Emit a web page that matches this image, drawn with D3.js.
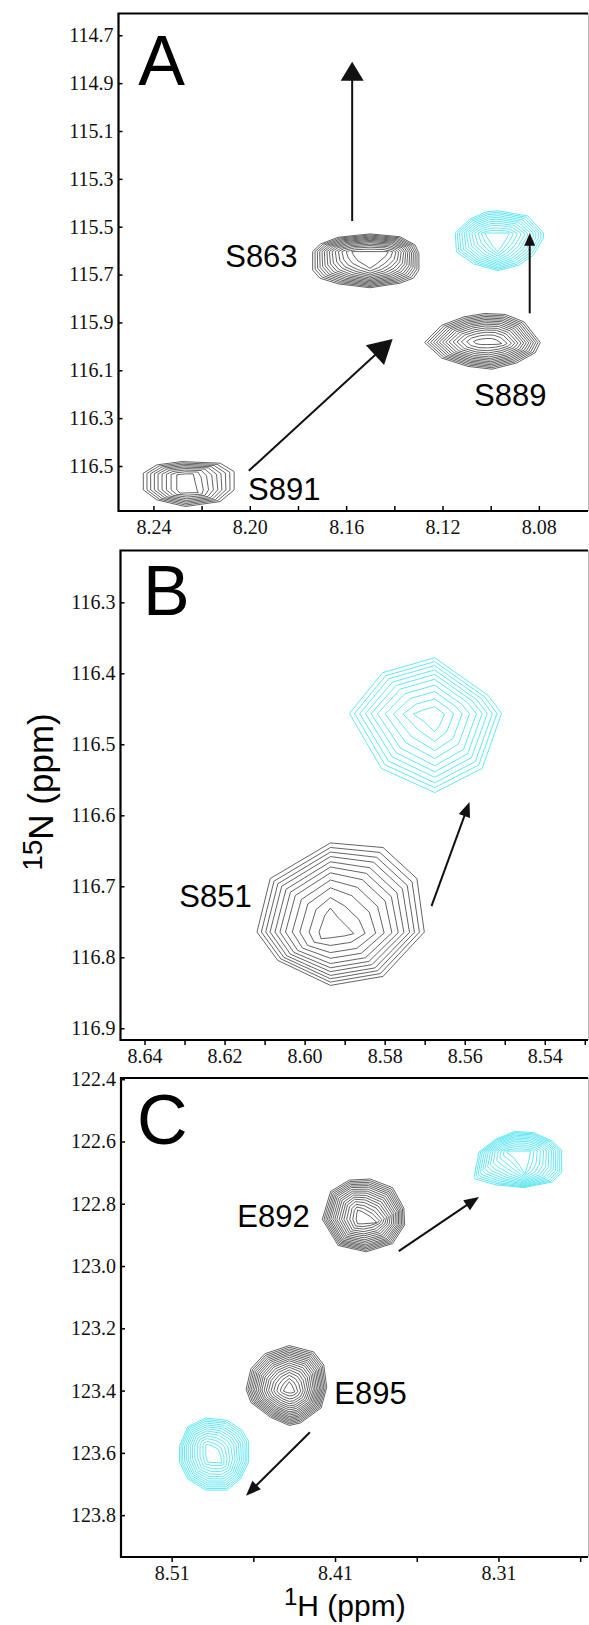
<!DOCTYPE html>
<html>
<head>
<meta charset="utf-8">
<script src="https://cdn.jsdelivr.net/npm/d3@7"></script>
<style>
  body { margin: 0; background: #fff; }
  svg { display: block; }
</style>
</head>
<body>
<svg id="chart" width="589" height="1625"></svg>
<script>
// ---- axes (ppm) ----
var panelNames = ["A", "B", "C"];
var xDomains = [[8.2545, 8.0596], [8.646, 8.5292], [8.541, 8.2552]];
var yDomains = [[114.609, 116.688], [116.227, 116.9165], [122.3961, 123.9344]];

var xTicksA = [8.24, 8.22, 8.20, 8.18, 8.16, 8.14, 8.12, 8.10, 8.08];
var xLabelsA = ["8.24", "8.20", "8.16", "8.12", "8.08"];
var yTicksA = [114.7, 114.9, 115.1, 115.3, 115.5, 115.7, 115.9, 116.1, 116.3, 116.5];

var xTicksB = [8.64, 8.63, 8.62, 8.61, 8.60, 8.59, 8.58, 8.57, 8.56, 8.55, 8.54, 8.53];
var xLabelsB = ["8.64", "8.62", "8.60", "8.58", "8.56", "8.54"];
var yTicksB = [116.3, 116.4, 116.5, 116.6, 116.7, 116.8, 116.9];

var xTicksC = [8.51, 8.46, 8.41, 8.36, 8.31, 8.26];
var xLabelsC = ["8.51", "8.41", "8.31"];
var yTicksC = [122.4, 122.6, 122.8, 123.0, 123.2, 123.4, 123.6, 123.8];

// ---- contour levels: fraction of the way from innermost (0) to outermost (1) ring ----
var levels9  = [1, .89, .78, .67, .56, .44, .31, .17, 0];
var levels10 = [1, .92, .84, .75, .66, .56, .44, .31, .16, 0];
var levels11 = [1, .93, .86, .79, .71, .63, .54, .43, .31, .16, 0];
var levels12 = [1, .93, .86, .78, .70, .62, .53, .44, .34, .23, .12, 0];
var levels13 = [1, .94, .88, .81, .74, .67, .59, .51, .42, .32, .22, .11, 0];
var levels14 = [1, .94, .88, .82, .76, .70, .635, .57, .50, .42, .34, .25, .14, 0];
var levels16 = [1, .95, .9, .85, .8, .75, .69, .63, .57, .5, .43, .36, .28, .19, .1, 0];
var levels18 = [1, .955, .91, .865, .82, .775, .73, .68, .63, .58, .52, .46, .4, .33, .26, .18, .09, 0];

// ---- peaks: centre (1H, 15N ppm), outer and inner contour as offsets (ppm) ----
var peaksA = [
  { name: "S863", state: "free", h: 8.1501, n: 115.639, levels: levels14,
    outer: [[0.0238,-0.035],[0.0205,-0.067],[0.0132,-0.095],[0,-0.109],[-0.0125,-0.097],[-0.0187,-0.063],[-0.0203,-0.028],
            [-0.0203,0.042],[-0.018,0.076],[-0.0125,0.097],[0,0.116],[0.0132,0.100],[0.0208,0.076],[0.0238,0.042]],
    inner: [[0.0076,-0.035],[0.0062,-0.035],[0.0042,-0.035],[0,-0.035],[-0.0042,-0.035],[-0.0062,-0.035],[-0.0076,-0.035],
            [-0.0066,-0.017],[-0.0042,0.004],[-0.0021,0.021],[0,0.035],[0.0021,0.021],[0.005,0.004],[0.0066,-0.017]] },
  { name: "S889 shifted", state: "bound", h: 8.0971, n: 115.556, levels: levels12,
    outer: [[0.0176,-0.0296],[0.0117,-0.0868],[0.0046,-0.1186],[0,-0.1227],[-0.0125,-0.101],[-0.019,-0.0296],
            [-0.019,-0.0084],[-0.0148,0.063],[-0.0086,0.106],[0,0.1273],[0.0101,0.0989],[0.0171,0.0488]],
    inner: [[0.0054,-0.0296],[0.0037,-0.0296],[0.0017,-0.0296],[0,-0.0296],[-0.0025,-0.0296],[-0.0047,-0.0296],
            [-0.0047,-0.025],[-0.0033,0],[-0.0017,0.025],[0,0.0488],[0.0021,0.025],[0.0037,0]] },
  { name: "S889", state: "free", h: 8.1025, n: 115.986, levels: levels14,
    outer: [[0.0249,-0.0021],[0.0179,-0.0739],[0.0086,-0.1094],[0,-0.1236],[-0.0086,-0.1194],[-0.0164,-0.0881],
            [-0.0231,-0.0021],[-0.021,0.0405],[-0.0132,0.0835],[-0.0031,0.1094],[0.007,0.0977],[0.0179,0.0626]],
    inner: [[0.0046,-0.0063],[0.0033,-0.0125],[0.0012,-0.0167],[-0.0008,-0.0188],[-0.0029,-0.0188],[-0.005,-0.0125],
            [-0.0071,0.0021],[-0.0058,0.005],[-0.0033,0.0063],[-0.0008,0.0063],[0.0017,0.0063],[0.0037,0.0021]] },
  { name: "S891", state: "free", h: 8.2256, n: 116.5746, levels: levels9,
    outer: [[0.0186,-0.0447],[0.013,-0.0793],[0.0026,-0.0931],[-0.0133,-0.0864],[-0.0191,-0.0514],
            [-0.0191,0.0251],[-0.0133,0.0739],[0.0012,0.0948],[0.013,0.0668],[0.0186,0.0251]],
    inner: [[0.0047,-0.0376],[0.0033,-0.0397],[0.0008,-0.0418],[-0.0021,-0.0418],[-0.0025,-0.0251],
            [-0.0037,0.0251],[-0.0042,0.0363],[0,0.0376],[0.0033,0.0388],[0.0047,0.0251]] }
];

var peaksB = [
  { name: "S851 shifted", state: "bound", h: 8.5675, n: 116.4659, levels: levels10,
    outer: [[0.0213,-0.0094],[0.01305,-0.0667],[0,-0.0879],[-0.01345,-0.0343],[-0.0167,-0.0094],[-0.01185,0.0681],[0,0.102],[0.0133,0.0681]],
    inner: [[0.00535,-0.0085],[0.003,-0.0141],[0,-0.0188],[-0.0015,-0.0127],[-0.00245,-0.0085],[-0.00125,0.0071],[0,0.0165],[0.0025,0.0028]] },
  { name: "S851", state: "free", h: 8.5912, n: 116.7409, levels: levels11,
    outer: [[0.0207,0.0236],[0.0174,-0.0518],[0.00235,-0.102],[-0.0108,-0.0955],[-0.01925,-0.0518],[-0.0211,0.0236],[-0.0108,0.086],[0.00235,0.0987],[0.0155,0.0635]],
    inner: [[0.0052,0.0236],[0.00375,0],[0.00235,-0.0103],[0.0005,0.0028],[-0.002,0.0169],[-0.0035,0.0258],[-0.00125,0.0289],[0.00235,0.0317],[0.0047,0.0329]] }
];

var peaksC = [
  { name: "E892", state: "free", h: 8.3929, n: 122.8361, levels: levels16,
    outer: [[0.0249,0.0138],[0.0198,-0.0761],[0.0083,-0.1121],[-0.0043,-0.1156],[-0.0181,-0.088],[-0.025,-0.0222],[-0.0255,0.0318],[-0.0181,0.0918],[-0.002,0.1182],[0.0152,0.0979]],
    inner: [[0.0042,0.0138],[0.0037,-0.0077],[0.0033,-0.0161],[0.0003,-0.0103],[-0.0043,0.0042],[-0.0084,0.0234],[-0.0066,0.0257],[-0.0031,0.027],[0.0003,0.0283],[0.0033,0.0283]] },
  { name: "E892 shifted", state: "bound", h: 8.2968, n: 122.6595, levels: levels13,
    outer: [[0.0281,0.0523],[0.0251,-0.0254],[0.0147,-0.0674],[0.0032,-0.0915],[-0.0082,-0.088],[-0.0197,-0.0613],
            [-0.0255,-0.0315],[-0.0255,0.0405],[-0.0197,0.0706],[-0.0024,0.0886],[0.0147,0.08],[0.0274,0.061]],
    inner: [[0.0079,-0.0225],[0.0079,-0.0289],[0.0061,-0.0289],[0.0031,-0.0289],[-0.0012,-0.0289],[-0.0049,-0.0289],
            [-0.0064,-0.0289],[-0.0055,0],[-0.0043,0.0225],[-0.0029,0.044],[0,0.0193],[0.0037,-0.0064]] },
  { name: "E895", state: "free", h: 8.438, n: 123.382, levels: levels18,
    outer: [[0.0264,0.0138],[0.0235,-0.0523],[0.015,-0.1002],[0,-0.1265],[-0.0149,-0.1063],[-0.0211,-0.0642],
            [-0.0229,0.0077],[-0.0195,0.0735],[-0.0069,0.1217],[0,0.1301],[0.0115,0.1037],[0.0235,0.0559]],
    inner: [[0.0035,0.0196],[0.0028,0.0112],[0.0015,0],[0,-0.0103],[-0.0015,0],[-0.0024,0.0096],
            [-0.0034,0.0222],[-0.0024,0.0241],[-0.0012,0.0257],[0,0.0257],[0.0012,0.0241],[0.0024,0.0225]] },
  { name: "E895 shifted", state: "bound", h: 8.4841, n: 123.6068, levels: levels13,
    outer: [[0.0211,-0.0283],[0.016,-0.0912],[0.005,-0.1188],[-0.0081,-0.1114],[-0.0173,-0.079],[-0.0212,-0.043],
            [-0.0212,0.0231],[-0.0162,0.0767],[-0.0081,0.1127],[0.005,0.1127],[0.016,0.0767],[0.0211,0.0231]],
    inner: [[0.005,-0.0311],[0.005,-0.0321],[0.0037,-0.0337],[0.0012,-0.0289],[-0.0012,-0.0225],[-0.0024,-0.0193],
            [-0.0043,0.0064],[-0.0047,0.0263],[-0.0024,0.0247],[0.0006,0.0241],[0.004,0.0228],[0.005,0]] }
];

// ---- shift arrows (from, to in ppm) ----
var arrowsA = [
  { from: [8.1575, 115.476], to: [8.1575, 114.811], head: "large" },
  { from: [8.0838, 115.862], to: [8.0838, 115.527], head: "small" },
  { from: [8.2004, 116.52], to: [8.1407, 115.969], head: "wide" }
];
var arrowsB = [
  { from: [8.5683, 116.7278], to: [8.5588, 116.5811], head: "medium" }
];
var arrowsC = [
  { from: [8.371, 122.952], to: [8.3219, 122.778], head: "medium" },
  { from: [8.4254, 123.5336], to: [8.4645, 123.7375], head: "medium" }
];

// ---- residue labels (anchor at left baseline, ppm) ----
var labelsA = [{ text: "S863", h: 8.2102, n: 115.6686 }, { text: "S889", h: 8.1069, n: 116.2489 }, { text: "S891", h: 8.2007, n: 116.6414 }];
var labelsB = [{ text: "S851", h: 8.6313, n: 116.7292 }];
var labelsC = [{ text: "E892", h: 8.4698, n: 122.8746 }, { text: "E895", h: 8.4105, n: 123.443 }];
var letterPos = [[8.2463, 114.9088], [8.6404, 116.3178], [8.5312, 122.6081]];

// ---------------------------------------------------------------
var svg = d3.select("#chart");
var sans = "'Liberation Sans', Arial, Helvetica, sans-serif",
    serif = "'Liberation Serif', 'Times New Roman', Times, serif";
var frames = [
  { left: 118.5, top: 13.5, right: 588, bottom: 511, tickX: -5, padX: 9 },
  { left: 120.5, top: 550.5, right: 588, bottom: 1040, tickX: 5, padX: 4 },
  { left: 121, top: 1078, right: 588, bottom: 1557, tickX: 5, padX: 4 }
];
var stateColor = { free: "#3c3c3c", bound: "#3fe0ef" };
var heads = { large: [19, 11.5], small: [12.5, 5.5], wide: [24, 13.5], medium: [15, 6] };

var panels = [
  { xt: xTicksA, xl: xLabelsA, yt: yTicksA, peaks: peaksA, arrows: arrowsA, labels: labelsA },
  { xt: xTicksB, xl: xLabelsB, yt: yTicksB, peaks: peaksB, arrows: arrowsB, labels: labelsB },
  { xt: xTicksC, xl: xLabelsC, yt: yTicksC, peaks: peaksC, arrows: arrowsC, labels: labelsC }
];

function styleAxis(s) {
  s.select(".domain").remove();
  s.attr("font-family", null).attr("font-size", null);
  s.selectAll(".tick line").attr("stroke", "#000").attr("stroke-width", 1.5);
  s.selectAll(".tick text")
      .style("font-family", serif)
      .style("font-size", "20px")
      .attr("fill", "#111");
}

panels.forEach(function(p, i) {
  var f = frames[i];
  var x = d3.scaleLinear().domain(xDomains[i]).range([f.left, f.right]),
      y = d3.scaleLinear().domain(yDomains[i]).range([f.top, f.bottom]);
  var g = svg.append("g").attr("class", "panel panel-" + panelNames[i]);

  // contours
  var line = d3.line()
      .x(function(d) { return x(d[0]); })
      .y(function(d) { return y(d[1]); })
      .curve(d3.curveLinearClosed);

  p.peaks.forEach(function(pk) {
    g.append("g").selectAll("path")
        .data(pk.levels)
        .enter().append("path")
        .attr("d", function(t) {
          return line(pk.outer.map(function(o, k) {
            var q = pk.inner[k];
            return [pk.h + q[0] + (o[0] - q[0]) * t, pk.n + q[1] + (o[1] - q[1]) * t];
          }));
        })
        .attr("fill", "none")
        .attr("stroke", stateColor[pk.state])
        .attr("stroke-width", 0.8);
  });

  // arrows
  p.arrows.forEach(function(a) {
    var x0 = x(a.from[0]), y0 = y(a.from[1]), x1 = x(a.to[0]), y1 = y(a.to[1]);
    var dx = x1 - x0, dy = y1 - y0, len = Math.sqrt(dx * dx + dy * dy);
    var ux = dx / len, uy = dy / len;
    var hl = heads[a.head][0], hw = heads[a.head][1];
    var bx = x1 - ux * hl, by = y1 - uy * hl;
    g.append("line")
        .attr("x1", x0).attr("y1", y0)
        .attr("x2", bx + ux * 2).attr("y2", by + uy * 2)
        .attr("stroke", "#111").attr("stroke-width", 2);
    g.append("path")
        .attr("d", "M" + x1 + "," + y1 +
                   "L" + (bx - uy * hw) + "," + (by + ux * hw) +
                   "L" + (bx + uy * hw) + "," + (by - ux * hw) + "Z")
        .attr("fill", "#111");
  });

  // residue labels
  g.selectAll(".reslabel")
      .data(p.labels)
      .enter().append("text")
      .attr("class", "reslabel")
      .attr("x", function(d) { return x(d.h); })
      .attr("y", function(d) { return y(d.n); })
      .style("font-family", sans)
      .style("font-size", "31px")
      .attr("fill", "#000")
      .text(function(d) { return d.text; });

  // panel letter
  g.append("text")
      .attr("x", x(letterPos[i][0]))
      .attr("y", y(letterPos[i][1]))
      .style("font-family", sans)
      .style("font-size", "70px")
      .attr("fill", "#000")
      .text(panelNames[i]);

  // axes
  var xl = p.xl;
  var xAxis = d3.axisBottom(x)
      .tickValues(p.xt)
      .tickSize(f.tickX)
      .tickPadding(f.padX)
      .tickFormat(function(d) { var s = d.toFixed(2); return xl.indexOf(s) >= 0 ? s : ""; });
  var yAxis = d3.axisLeft(y)
      .tickValues(p.yt)
      .tickSize(-4)
      .tickPadding(5)
      .tickFormat(d3.format(".1f"));

  g.append("g")
      .attr("class", "axis axis--x")
      .attr("transform", "translate(0," + f.bottom + ")")
      .call(xAxis)
      .call(styleAxis);

  g.append("g")
      .attr("class", "axis axis--y")
      .attr("transform", "translate(" + f.left + ",0)")
      .call(yAxis)
      .call(styleAxis);

  // frame: left, top, bottom solid; right edge falls on the page border
  g.append("path")
      .attr("d", "M" + f.right + "," + f.top + "H" + f.left + "V" + f.bottom + "H" + f.right)
      .attr("fill", "none").attr("stroke", "#000").attr("stroke-width", 2.2);
  g.append("line")
      .attr("x1", 588.5).attr("x2", 588.5).attr("y1", f.top).attr("y2", f.bottom)
      .attr("stroke", "#bbb").attr("stroke-width", 1);
});

// axis titles
var yTitle = svg.append("text")
    .attr("transform", "translate(53,792) rotate(-90)")
    .attr("text-anchor", "middle")
    .style("font-family", sans)
    .attr("fill", "#000");
yTitle.append("tspan").style("font-size", "28px").attr("dy", -11).text("15");
yTitle.append("tspan").style("font-size", "35px").attr("dy", 11).text("N (ppm)");

var xTitle = svg.append("text")
    .attr("x", 284).attr("y", 1616)
    .style("font-family", sans)
    .attr("fill", "#000");
xTitle.append("tspan").style("font-size", "24px").attr("dy", -11).text("1");
xTitle.append("tspan").style("font-size", "30px").attr("dy", 11).text("H (ppm)");
</script>
</body>
</html>
